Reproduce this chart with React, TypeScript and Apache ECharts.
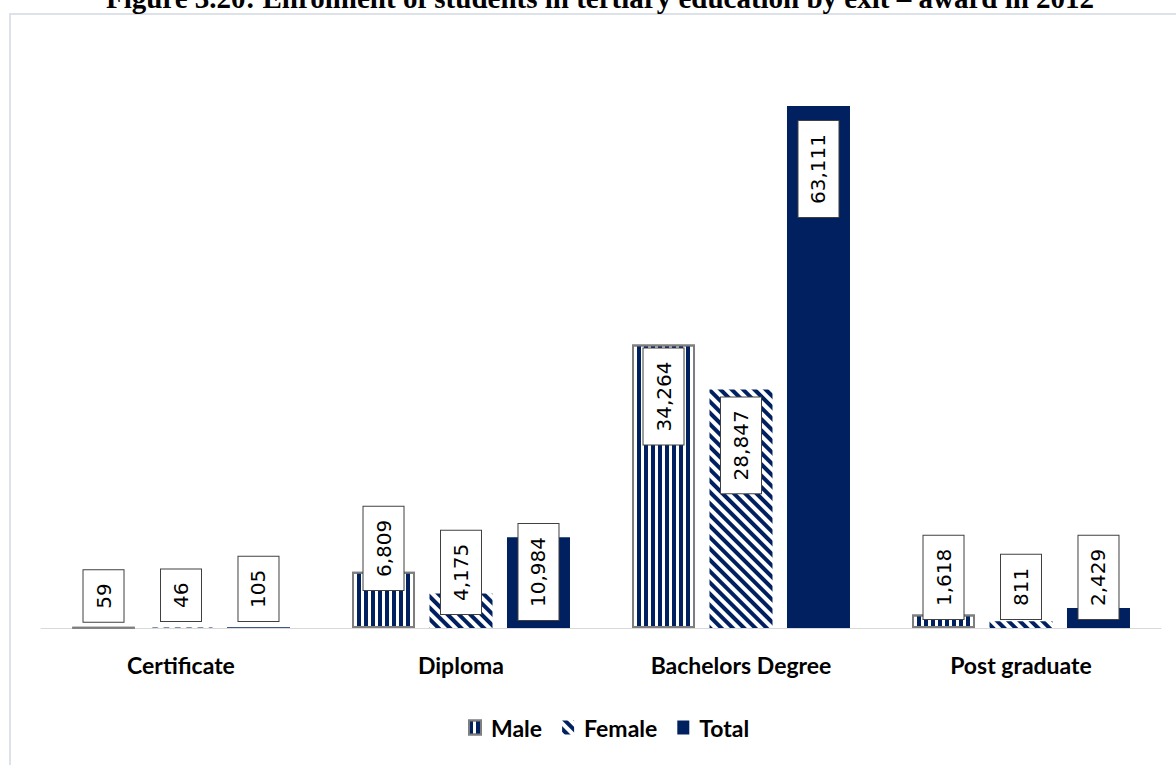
import React, { useEffect, useRef } from "react";
import * as echarts from "echarts";

const categories = ["Certificate", "Diploma", "Bachelors Degree", "Post graduate"];
const male = [59, 6809, 34264, 1618];
const female = [46, 4175, 28847, 811];
const total = [105, 10984, 63111, 2429];
const titleText = "Figure 3.20: Enrolment of students in tertiary education by exit \u2013 award in 2012";

// label placement (distance in px from bar end) per series/category
const maleLabelPos = [["insideBottom", 7], ["insideBottom", 38], ["insideTop", 4], ["insideBottom", 9]];
const femaleLabelPos = [["insideBottom", 7], ["insideBottom", 14], ["insideTop", 8], ["insideBottom", 9]];
const totalLabelPos = [["insideBottom", 7], ["insideBottom", 8], ["insideTop", 15], ["insideBottom", 9]];

const NAVY = "#002060";

const baseLabel = {
  show: true,
  rotate: 90,
  verticalAlign: "middle",
  fontFamily: "DejaVu Sans",
  fontSize: 20,
  color: "#000",
  backgroundColor: "#fff",
  borderColor: "#404040",
  borderWidth: 1,
  padding: [10, 13],
  formatter: (p: any) => Number(p.value).toLocaleString("en-US"),
};

function buildData(vals: number[], pos: any[]) {
  return vals.map((v, i) => {
    const [position, distance] = pos[i];
    return {
      value: v,
      label: {
        position,
        distance,
        align: position === "insideTop" ? "right" : "left",
      },
    };
  });
}

export default function App() {
  const ref = useRef<HTMLDivElement>(null);
  useEffect(() => {
    document.body.style.margin = "0";
    const chart = echarts.init(ref.current!, null, { renderer: "svg" });
    chart.setOption({
      animation: false,
      backgroundColor: "#fff",
      graphic: [
        {
          type: "rect",
          shape: { x: 10, y: 14, width: 1300, height: 900 },
          style: { fill: "none", stroke: "#dde2e9", lineWidth: 2 },
          z: -10,
        },
        {
          type: "text",
          x: 600,
          y: -2,
          style: {
            text: titleText,
            font: "bold 29px 'Liberation Serif'",
            fill: "#000",
            textAlign: "center",
            textVerticalAlign: "middle",
          },
        },
      ],
      legend: {
        bottom: 21,
        left: 463,
        itemWidth: 12,
        itemHeight: 14,
        itemGap: 20,
        icon: "rect",
        textStyle: {
          fontFamily: "Lato",
          fontWeight: "bold",
          fontSize: 23,
          color: "#000",
          padding: [0, 0, 0, 5],
        },
        data: ["Male", "Female", "Total"],
      },
      grid: { left: 41, right: 15, top: 49, bottom: 137, containLabel: false },
      xAxis: {
        type: "category",
        data: categories,
        axisLine: { lineStyle: { color: "#d9d9d9", width: 1 } },
        axisTick: { show: false },
        axisLabel: {
          margin: 25,
          fontFamily: "Lato",
          fontWeight: "bold",
          fontSize: 23,
          color: "#000",
        },
      },
      yAxis: { type: "value", min: 0, max: 70000, show: false, splitLine: { show: false } },
      series: [
        {
          name: "Male",
          type: "bar",
          barWidth: 63,
          barGap: "23%",
          data: buildData(male, maleLabelPos),
          itemStyle: {
            color: "#fff",
            borderColor: "#7f7f7f",
            borderWidth: 2,
            decal: {
              symbol: "rect",
              symbolSize: 1,
              color: NAVY,
              dashArrayX: [4, 3],
              dashArrayY: [1, 0],
              rotation: 0,
            },
          },
          label: baseLabel,
        },
        {
          name: "Female",
          type: "bar",
          barWidth: 63,
          barGap: "23%",
          data: buildData(female, femaleLabelPos),
          itemStyle: {
            color: "#fff",
            decal: {
              symbol: "rect",
              symbolSize: 1,
              color: NAVY,
              dashArrayX: [4, 4],
              dashArrayY: [1, 0],
              rotation: -Math.PI / 4,
            },
          },
          label: baseLabel,
        },
        {
          name: "Total",
          type: "bar",
          barWidth: 63,
          barGap: "23%",
          data: buildData(total, totalLabelPos),
          itemStyle: { color: NAVY },
          label: baseLabel,
        },
      ],
    });
    return () => chart.dispose();
  }, []);
  return <div ref={ref} style={{ width: 1176, height: 765 }} />;
}
